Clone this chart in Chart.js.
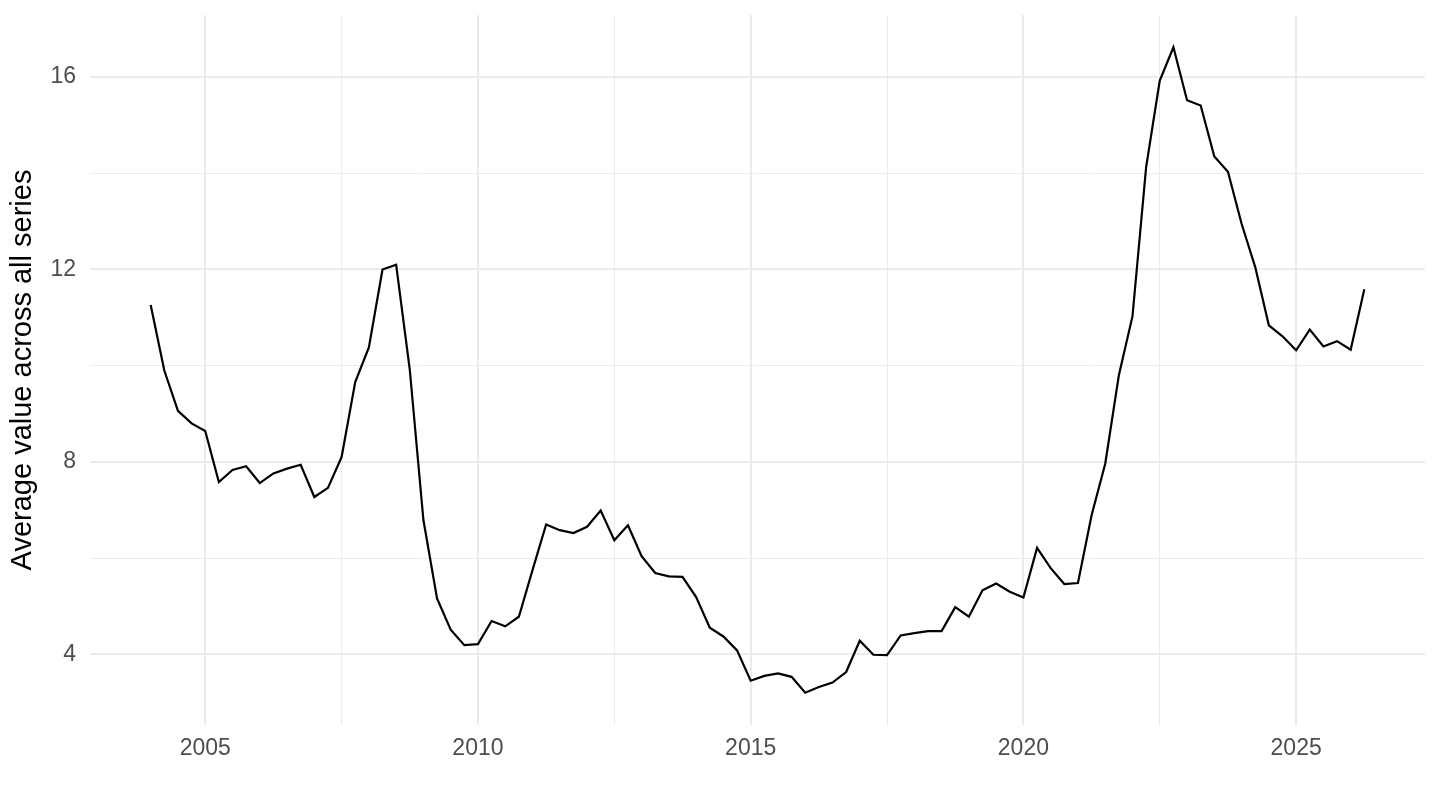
<!DOCTYPE html>
<html>
<head>
<meta charset="utf-8">
<script src="https://cdn.jsdelivr.net/npm/chart.js@4/dist/chart.umd.min.js"></script>
<style>
  html, body { margin: 0; padding: 0; background: #fff; }
  #wrap { width: 1440px; height: 810px; position: relative; }
</style>
</head>
<body>
<div id="wrap"><canvas id="chart"></canvas></div>
<script>
'use strict';
const quarters = [
  '2004 Q1', '2004 Q2', '2004 Q3', '2004 Q4',
  '2005 Q1', '2005 Q2', '2005 Q3', '2005 Q4',
  '2006 Q1', '2006 Q2', '2006 Q3', '2006 Q4',
  '2007 Q1', '2007 Q2', '2007 Q3', '2007 Q4',
  '2008 Q1', '2008 Q2', '2008 Q3', '2008 Q4',
  '2009 Q1', '2009 Q2', '2009 Q3', '2009 Q4',
  '2010 Q1', '2010 Q2', '2010 Q3', '2010 Q4',
  '2011 Q1', '2011 Q2', '2011 Q3', '2011 Q4',
  '2012 Q1', '2012 Q2', '2012 Q3', '2012 Q4',
  '2013 Q1', '2013 Q2', '2013 Q3', '2013 Q4',
  '2014 Q1', '2014 Q2', '2014 Q3', '2014 Q4',
  '2015 Q1', '2015 Q2', '2015 Q3', '2015 Q4',
  '2016 Q1', '2016 Q2', '2016 Q3', '2016 Q4',
  '2017 Q1', '2017 Q2', '2017 Q3', '2017 Q4',
  '2018 Q1', '2018 Q2', '2018 Q3', '2018 Q4',
  '2019 Q1', '2019 Q2', '2019 Q3', '2019 Q4',
  '2020 Q1', '2020 Q2', '2020 Q3', '2020 Q4',
  '2021 Q1', '2021 Q2', '2021 Q3', '2021 Q4',
  '2022 Q1', '2022 Q2', '2022 Q3', '2022 Q4',
  '2023 Q1', '2023 Q2', '2023 Q3', '2023 Q4',
  '2024 Q1', '2024 Q2', '2024 Q3', '2024 Q4',
  '2025 Q1', '2025 Q2', '2025 Q3', '2025 Q4',
  '2026 Q1', '2026 Q2'
];

const averageValue = [
  11.26, 9.90, 9.06, 8.80,
  8.64, 7.58, 7.83, 7.91,
  7.56, 7.76, 7.86, 7.94,
  7.27, 7.46, 8.10, 9.66,
  10.38, 12.00, 12.10, 9.92,
  6.79, 5.16, 4.51, 4.19,
  4.21, 4.69, 4.58, 4.78,
  5.75, 6.70, 6.58, 6.52,
  6.65, 6.99, 6.37, 6.68,
  6.04, 5.69, 5.62, 5.61,
  5.19, 4.55, 4.37, 4.08,
  3.45, 3.55, 3.60, 3.53,
  3.20, 3.32, 3.41, 3.63,
  4.28, 3.99, 3.98, 4.39,
  4.44, 4.48, 4.48, 4.98,
  4.78, 5.33, 5.47, 5.30,
  5.18, 6.21, 5.79, 5.46,
  5.48, 6.89, 7.96, 9.80,
  11.03, 14.13, 15.93, 16.62,
  15.52, 15.41, 14.35, 14.03,
  12.95, 12.05, 10.84, 10.61,
  10.32, 10.75, 10.40, 10.51,
  10.33, 11.59
];

// Axis breaks (ggplot style: labelled majors, unlabelled minors)
const xMajorTicks = [2005, 2010, 2015, 2020, 2025];
const xTickLabels = ['2005', '2010', '2015', '2020', '2025'];
const xMinorTicks = [2007.5, 2012.5, 2017.5, 2022.5];
const yMajorTicks = [4, 8, 12, 16];
const yTickLabels = ['4', '8', '12', '16'];
const yMinorTicks = [6, 10, 14];

const yTitle = 'Average value across all series';

// "2004 Q3" -> 2004.5
function quarterToYear(q) {
  const parts = q.split(' Q');
  return Number(parts[0]) + (Number(parts[1]) - 1) / 4;
}

const points = quarters.map((q, i) => ({ x: quarterToYear(q), y: averageValue[i] }));

// 5% expansion on each side, like ggplot's default
const xs = points.map(p => p.x);
const xPad = (Math.max(...xs) - Math.min(...xs)) * 0.05;
const yPad = (Math.max(...averageValue) - Math.min(...averageValue)) * 0.05;

const FONT = '"Liberation Sans", Arial, Helvetica, sans-serif';
const GRID = '#EBEBEB';

function setTicks(majors, minors) {
  return scale => {
    scale.ticks = majors.concat(minors).sort((a, b) => a - b).map(v => ({ value: v }));
  };
}

function gridWidth(majors) {
  return ctx => (ctx.tick && majors.includes(ctx.tick.value) ? 2 : 1);
}

const config = {
  type: 'line',
  data: {
    datasets: [{
      label: yTitle,
      data: points,
      borderColor: '#000000',
      borderWidth: 2.2,
      pointRadius: 0,
      tension: 0,
      fill: false
    }]
  },
  options: {
    responsive: true,
    maintainAspectRatio: false,
    animation: false,
    layout: { padding: { top: 15, right: 15, left: 0, bottom: 0 } },
    plugins: {
      legend: { display: false },
      tooltip: { enabled: false }
    },
    scales: {
      x: {
        type: 'linear',
        min: Math.min(...xs) - xPad,
        max: Math.max(...xs) + xPad,
        afterBuildTicks: setTicks(xMajorTicks, xMinorTicks),
        afterFit: scale => {
          scale.height = 85;
          scale.paddingLeft = 0;
          scale.paddingRight = 0;
        },
        border: { display: false },
        grid: { color: GRID, lineWidth: gridWidth(xMajorTicks), drawTicks: false },
        ticks: {
          autoSkip: false,
          maxRotation: 0,
          padding: 10,
          color: '#4D4D4D',
          font: { family: FONT, size: 23 },
          callback: value => {
            const i = xMajorTicks.indexOf(value);
            return i >= 0 ? xTickLabels[i] : '';
          }
        }
      },
      y: {
        type: 'linear',
        min: Math.min(...averageValue) - yPad,
        max: Math.max(...averageValue) + yPad,
        afterBuildTicks: setTicks(yMajorTicks, yMinorTicks),
        afterFit: scale => {
          scale.width = 90;
          scale.paddingTop = 0;
          scale.paddingBottom = 0;
        },
        border: { display: false },
        grid: { color: GRID, lineWidth: gridWidth(yMajorTicks), drawTicks: false },
        title: {
          display: true,
          text: yTitle,
          color: '#000000',
          font: { family: FONT, size: 29 },
          padding: { top: 6, bottom: 0 }
        },
        ticks: {
          autoSkip: false,
          padding: 14,
          color: '#4D4D4D',
          font: { family: FONT, size: 23 },
          callback: value => {
            const i = yMajorTicks.indexOf(value);
            return i >= 0 ? yTickLabels[i] : '';
          }
        }
      }
    }
  }
};

const canvasElem = document.getElementById('chart');
const myChart = new Chart(canvasElem, config);
</script>
</body>
</html>
